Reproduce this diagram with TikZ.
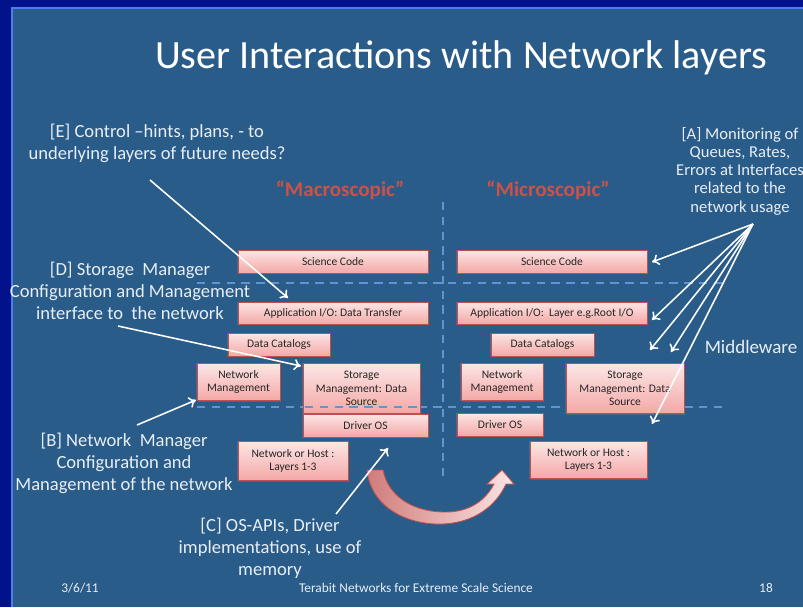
\documentclass[tikz,border=0pt]{standalone}
\usepackage{fontspec}
\setmainfont{Carlito}
\usetikzlibrary{positioning,calc,arrows.meta,shadows}

\definecolor{slidebg}{RGB}{42,92,138}
\definecolor{navyband}{RGB}{2,18,138}
\definecolor{rimblue}{RGB}{72,128,235}
\definecolor{dashblue}{RGB}{98,148,210}
\definecolor{boxred}{RGB}{192,80,77}
\definecolor{boxtop}{RGB}{252,230,230}
\definecolor{boxbot}{RGB}{243,168,166}
\definecolor{macred}{RGB}{204,82,72}
\definecolor{labelwhite}{RGB}{232,238,245}

\begin{document}
\begin{tikzpicture}[x=0.025cm,y=-0.025cm,
    layer/.style={draw=boxred, line width=0.6pt, top color=boxtop, bottom color=boxbot,
      font=\fontsize{8.2}{9.4}\selectfont, text=black!85, align=center, inner sep=1pt,
      drop shadow={opacity=0.35, shadow xshift=1pt, shadow yshift=-1pt}},
    note/.style={text=labelwhite, align=center, font=\fontsize{13.2}{15.6}\selectfont},
    scope/.style={text=macred, font=\bfseries\fontsize{15}{18}\selectfont},
    foot/.style={text=labelwhite, font=\fontsize{9.5}{11}\selectfont},
    sep/.style={dashblue, line width=1.3pt, dash pattern=on 6pt off 4.5pt},
    pointer/.style={-{To[length=5pt,width=8pt]}, white, line width=1.1pt}]

    % slide
    \clip (0,0) rectangle (803,607);
    \fill[navyband] (0,0) rectangle (803,607);
    \fill[rimblue] (11,7) rectangle (803,607);
    \fill[slidebg] (13,9) rectangle (803,607);

    \node[text=white, font=\fontsize{28.5}{34}\selectfont] (title) at (461,58) {User Interactions with Network layers};

    % separators
    \draw[sep] (197,283) -- (722,283);
    \draw[sep] (197,407) -- (722,407);
    \draw[sep] (443,202) -- (443,482);

    \node[scope] (macro) at (340,190) {“Macroscopic”};
    \node[scope] (micro) at (548,190) {“Microscopic”};

    % left stack
    \node[layer, minimum width=4.75cm, minimum height=0.575cm] (sciL) at (333,261.5) {Science Code};
    \node[layer, minimum width=4.75cm, minimum height=0.55cm] (appL) at (333,313) {Application I/O: Data Transfer};
    \node[layer, minimum width=2.55cm, minimum height=0.575cm] (catL) at (279,344.5) {Data Catalogs};
    \node[layer, minimum width=2.075cm, minimum height=0.925cm] (nmL) at (238.5,382) {Network\\Management};
    \node[layer, minimum width=2.925cm, minimum height=1.25cm] (smL) at (361.5,388.5) {Storage\\Management: Data\\Source};
    \node[layer, minimum width=3.125cm, minimum height=0.575cm] (drvL) at (365.5,425.5) {Driver OS};
    \node[layer, minimum width=2.75cm, minimum height=0.975cm] (nhL) at (293,461) {Network or Host :\\Layers 1-3};
    \draw[sep] (305,407) -- (420,407);

    % right stack
    \node[layer, minimum width=4.75cm, minimum height=0.575cm] (sciR) at (552,261.5) {Science Code};
    \node[layer, minimum width=4.75cm, minimum height=0.55cm] (appR) at (552,313) {Application I/O:\ \ Layer e.g.Root I/O};
    \node[layer, minimum width=2.575cm, minimum height=0.575cm] (catR) at (542.5,344.5) {Data Catalogs};
    \node[layer, minimum width=2.05cm, minimum height=0.925cm] (nmR) at (502,382) {Network\\Management};
    \node[layer, minimum width=2.95cm, minimum height=1.25cm] (smR) at (625,388.5) {Storage\\Management: Data\\Source};
    \node[layer, minimum width=2.15cm, minimum height=0.575cm] (drvR) at (500,424.5) {Driver OS};
    \node[layer, minimum width=2.925cm, minimum height=0.925cm] (nhR) at (588.5,460) {Network or Host :\\Layers 1-3};

    % move from macro to micro
    \draw[boxred, line width=0.6pt, left color=boxred!75!white, right color=boxtop]
      (367,470) .. controls (371,508) and (408,525) .. (442,524)
      .. controls (474,523) and (496,506) .. (506,484)
      -- (514,484) -- (502,470) -- (487,484) -- (494,484)
      .. controls (484,503) and (466,513) .. (442,512)
      .. controls (412,511) and (388,496) .. (383,470) -- cycle;

    \node[note] (noteE) at (157,143.5) {[E] Control –hints, plans, - to\\underlying layers of future needs?};
    \node[note] (noteD) at (130,291) {[D] Storage\ \ Manager\\Configuration and Management\\interface to\ \ the network};
    \node[note] (noteB) at (124,463) {[B] Network\ \ Manager\\Configuration and\\Management of the network};
    \node[note] (noteC) at (270,548) {[C] OS-APIs, Driver\\implementations, use of\\memory};
    \node[note, font=\fontsize{11.8}{13}\selectfont] (noteA) at (740,171) {[A] Monitoring of\\Queues, Rates,\\Errors at Interfaces\\related to the\\network usage};
    \node[note, font=\fontsize{13.5}{16}\selectfont] (mid) at (751,347) {Middleware};

    \node[foot] (date) at (80,588) {3/6/11};
    \node[foot] (event) at (416,588) {Terabit Networks for Extreme Scale Science};
    \node[foot] (page) at (766,588) {18};

    % pointers
    \coordinate (eTail) at (150,180);  \coordinate (eTip) at (288,298);
    \coordinate (dTail) at (118,326);  \coordinate (dTip) at (301,366);
    \coordinate (bTail) at (137,425);  \coordinate (bTip) at (196,400);
    \coordinate (cTail) at (336,514);  \coordinate (cTip) at (388,448);
    \coordinate (aHub) at (753,224);
    \coordinate (a1) at (652,262);
    \coordinate (a2) at (652,320);
    \coordinate (a3) at (650,350);
    \coordinate (a4) at (671,352);
    \coordinate (a5) at (652,424);

    \draw[pointer] (eTail) -- (eTip);
    \draw[pointer] (dTail) -- (dTip);
    \draw[pointer] (bTail) -- (bTip);
    \draw[pointer] (cTail) -- (cTip);
    \foreach \t in {a1,a2,a3,a4,a5}
      \draw[pointer] (aHub) -- (\t);
\end{tikzpicture}
\end{document}
